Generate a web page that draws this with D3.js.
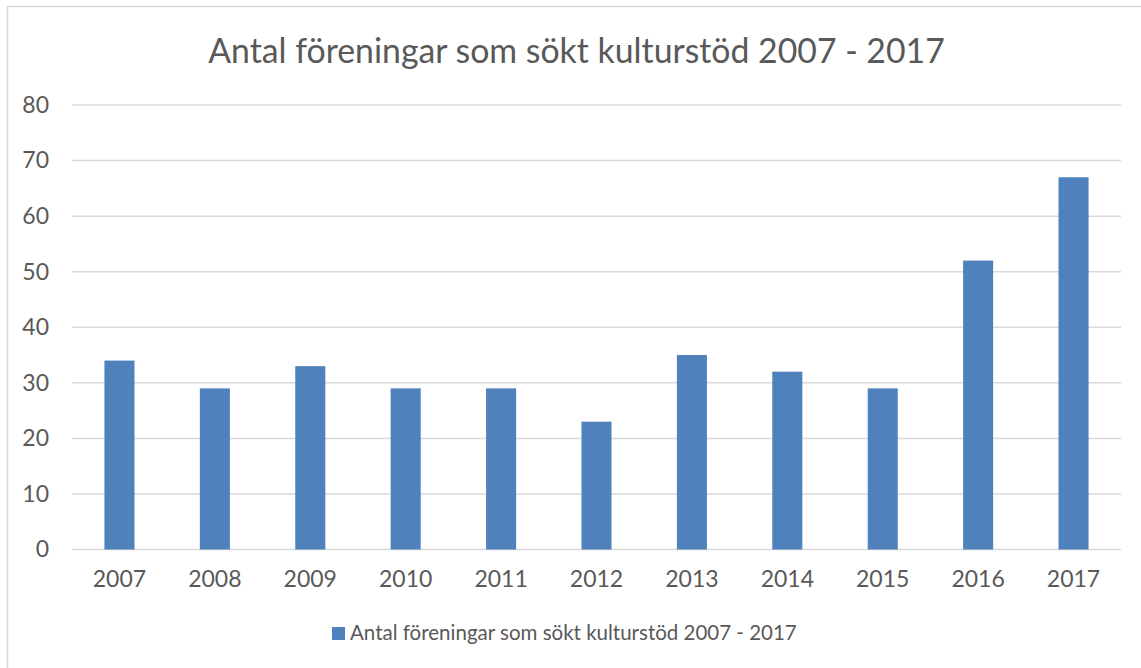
<!doctype html>
<html>
<head>
<script src="https://d3js.org/d3.v7.min.js"></script>
<style>
  body { margin: 0; background: #fff; }
  text { font-family: Lato, "Open Sans", sans-serif; fill: #595959; }
</style>
</head>
<body>
<svg width="1141" height="668"></svg>
<script>
// data
var years = ["2007", "2008", "2009", "2010", "2011", "2012", "2013", "2014", "2015", "2016", "2017"];
var counts = [34, 29, 33, 29, 29, 23, 35, 32, 29, 52, 67];
var yTicks = [0, 10, 20, 30, 40, 50, 60, 70, 80];
var title = "Antal föreningar som sökt kulturstöd 2007 - 2017";
var seriesName = "Antal föreningar som sökt kulturstöd 2007 - 2017";

var svg = d3.select("svg");
var plotLeft = 72, plotRight = 1121, plotTop = 105, plotBottom = 549.5;
var barColor = "#4F81BD";

// chart border (runs off the picture on the right and bottom)
svg.append("rect")
  .attr("x", 7.5).attr("y", 6.5)
  .attr("width", 1200).attr("height", 700)
  .attr("fill", "none")
  .attr("stroke", "#d9d9d9")
  .attr("stroke-width", 1.5);

var x = d3.scaleBand().domain(years).range([plotLeft, plotRight]).paddingInner(0.685).paddingOuter(0.34);
var y = d3.scaleLinear().domain([0, 80]).range([plotBottom, plotTop]);

// fit text to a target width
function fit(sel, target) {
  var base = parseFloat(sel.style("font-size"));
  var w = sel.node().getComputedTextLength();
  sel.style("font-size", (base * target / w) + "px");
}

// gridlines
svg.append("g")
  .selectAll("line")
  .data(yTicks)
  .enter()
  .append("line")
  .attr("x1", plotLeft).attr("x2", plotRight)
  .attr("y1", function(d) { return y(d); })
  .attr("y2", function(d) { return y(d); })
  .attr("stroke", "#d9d9d9")
  .attr("stroke-width", 1.5);

// y axis labels
var yAxis = svg.append("g")
  .attr("transform", "translate(" + plotLeft + ",0)")
  .call(d3.axisLeft(y).tickValues(yTicks).tickSize(0).tickPadding(23));
yAxis.select(".domain").remove();
yAxis.selectAll("text")
  .style("font-size", "23px")
  .style("font-family", "Lato, sans-serif")
  .attr("fill", "#595959");

// bars
svg.append("g")
  .selectAll("rect")
  .data(counts)
  .enter()
  .append("rect")
  .attr("x", function(d, i) { return x(years[i]); })
  .attr("y", function(d) { return y(d); })
  .attr("width", x.bandwidth())
  .attr("height", function(d) { return y(0) - y(d); })
  .attr("fill", barColor);

// x axis labels
var xAxis = svg.append("g")
  .attr("transform", "translate(0," + plotBottom + ")")
  .call(d3.axisBottom(x).tickSize(0).tickPadding(21));
xAxis.select(".domain").remove();
xAxis.selectAll("text")
  .style("font-size", "23px")
  .style("font-family", "Lato, sans-serif")
  .attr("fill", "#595959");

// title
var t = svg.append("text")
  .attr("x", 576.5).attr("y", 63)
  .attr("text-anchor", "middle")
  .style("font-size", "36px")
  .text(title);
fit(t, 737);

// legend
svg.append("rect")
  .attr("x", 332).attr("y", 627)
  .attr("width", 13).attr("height", 13)
  .attr("fill", barColor);
var lg = svg.append("text")
  .attr("x", 350).attr("y", 640)
  .style("font-size", "22px")
  .text(seriesName);
fit(lg, 447);
</script>
</body>
</html>
